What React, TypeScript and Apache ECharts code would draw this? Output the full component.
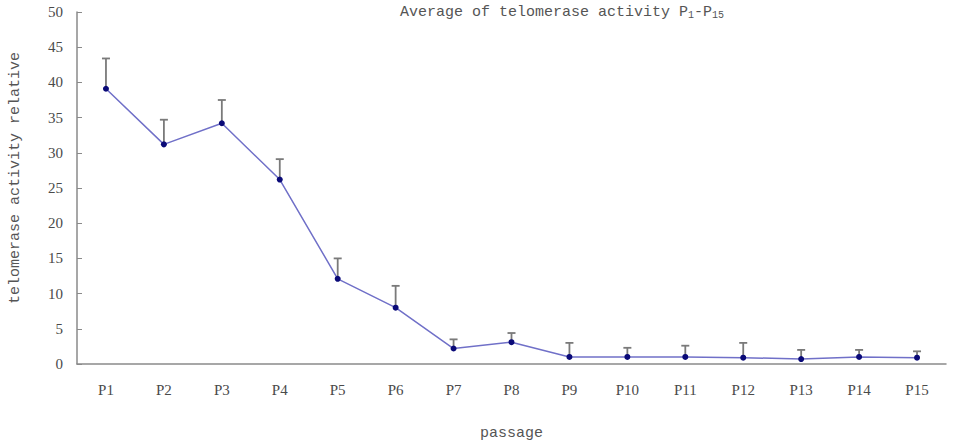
import React, { useEffect, useRef } from "react";
import * as echarts from "echarts";

const passages = ["P1", "P2", "P3", "P4", "P5", "P6", "P7", "P8", "P9", "P10", "P11", "P12", "P13", "P14", "P15"];
const meanActivity = [39.1, 31.2, 34.2, 26.2, 12.1, 8.0, 2.2, 3.1, 1.0, 1.0, 1.0, 0.9, 0.7, 1.0, 0.9];
const errorSD = [4.3, 3.5, 3.3, 2.9, 2.9, 3.1, 1.3, 1.3, 2.0, 1.3, 1.6, 2.1, 1.3, 1.0, 0.9];
const yTicks = [0, 5, 10, 15, 20, 25, 30, 35, 40, 45, 50];

export default function App() {
  const ref = useRef<HTMLDivElement>(null);
  useEffect(() => {
    if (!ref.current) return;
    const chart = echarts.init(ref.current, null, { renderer: "svg" });
    const mono = "Liberation Mono";
    const serif = "Liberation Serif";
    const axisColor = "#8a8a8a";
    const textColor = "#4a4a4a";
    chart.setOption({
      animation: false,
      backgroundColor: "#ffffff",
      title: {
        text: "{a|Average of telomerase activity P}{s|1}{a|-P}{s|15}",
        left: 395,
        top: -3,
        textStyle: {
          fontWeight: "normal",
          rich: {
            a: { fontFamily: mono, fontSize: 15, fontWeight: "normal", color: "#555", verticalAlign: "bottom", lineHeight: 18 },
            s: { fontFamily: mono, fontSize: 10, fontWeight: "normal", color: "#555", verticalAlign: "bottom", lineHeight: 14 },
          },
        },
      },
      grid: { left: 72, right: 12, top: 12, bottom: 78, containLabel: false },
      xAxis: {
        type: "category",
        data: passages,
        boundaryGap: true,
        name: "passage",
        nameLocation: "middle",
        nameGap: 62,
        nameTextStyle: { fontFamily: mono, fontSize: 15, color: "#555" },
        axisLine: { lineStyle: { color: axisColor, width: 1.5 } },
        axisTick: { inside: true, length: 5, alignWithLabel: false, lineStyle: { color: axisColor } },
        axisLabel: { fontFamily: serif, fontSize: 15, color: textColor, margin: 18 },
        splitLine: { show: false },
      },
      yAxis: {
        type: "value",
        min: yTicks[0],
        max: yTicks[yTicks.length - 1],
        interval: 5,
        name: "telomerase activity relative",
        nameLocation: "middle",
        nameGap: 54,
        nameRotate: 90,
        nameTextStyle: { fontFamily: mono, fontSize: 15, color: "#555", padding: [0, 0, 0, 20] },
        axisLine: { show: true, lineStyle: { color: axisColor, width: 1.5 } },
        axisTick: { show: true, inside: true, length: 5, lineStyle: { color: axisColor } },
        axisLabel: { fontFamily: serif, fontSize: 15, color: textColor, margin: 14 },
        splitLine: { show: false },
      },
      series: [
        {
          type: "custom",
          data: passages.map((_, i) => [i, meanActivity[i], meanActivity[i] + errorSD[i]]),
          renderItem: (params: any, api: any) => {
            const base = api.coord([api.value(0), api.value(1)]);
            const top = api.coord([api.value(0), api.value(2)]);
            const half = 4;
            return {
              type: "group",
              children: [
                {
                  type: "line",
                  shape: { x1: base[0], y1: base[1], x2: top[0], y2: top[1] },
                  style: { stroke: "#7a7a7a", lineWidth: 1.8 },
                },
                {
                  type: "line",
                  shape: { x1: top[0] - half, y1: top[1], x2: top[0] + half, y2: top[1] },
                  style: { stroke: "#7a7a7a", lineWidth: 1.8 },
                },
              ],
            };
          },
          z: 1,
        },
        {
          type: "line",
          data: meanActivity,
          symbol: "circle",
          symbolSize: 6,
          lineStyle: { color: "#7070c8", width: 1.5 },
          itemStyle: { color: "#0a0a78" },
          z: 2,
        },
      ],
    });
    return () => chart.dispose();
  }, []);
  return <div ref={ref} style={{ position: "fixed", left: 0, top: 0, width: 958, height: 446 }} />;
}
